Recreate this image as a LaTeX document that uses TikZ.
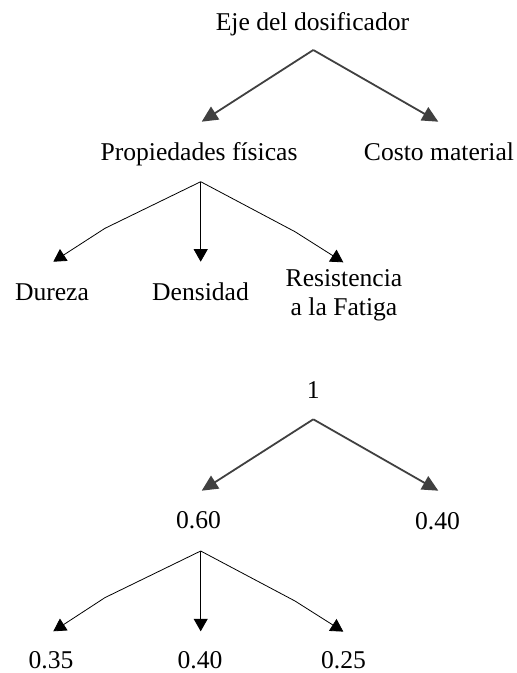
\documentclass[tikz,border=0pt]{standalone}
\usepackage{fontspec}
\setmainfont{Liberation Serif}
\usetikzlibrary{arrows.meta}
\definecolor{arrgray}{RGB}{64,64,64}
\tikzset{
  lbl/.style={anchor=base, inner sep=0pt, font=\fontsize{25.6}{28.3}\selectfont},
  bigarr/.style={draw=arrgray, line width=1.8pt, -{Triangle[length=16pt,width=15pt]}},
  smallarr/.style={draw=black, line width=0.8pt, line join=round, -{Triangle[length=12.5pt,width=14pt]}},
}
\begin{document}
\begin{tikzpicture}[x=1pt,y=-1pt]
\useasboundingbox (0,0) rectangle (517,673);
% ---- first tree ----
\node[lbl] (eje) at (312.5,30) {Eje del dosificador};
\node[lbl] (prop) at (199,160) {Propiedades físicas};
\node[lbl] (costo) at (439,160) {Costo material};
\node[lbl] (dur) at (52,300.7) {Dureza};
\node[lbl] (den) at (200.5,300.7) {Densidad};
\node[lbl] (res) at (344,286.7) {\begin{tabular}[t]{@{}c@{}}Resistencia\\a la Fatiga\end{tabular}};

\coordinate (ejeA) at (313.3,50);
\coordinate (propT) at (201.7,121.7);
\coordinate (costoT) at (438.3,121.7);
\coordinate (propA) at (200.7,181.7);
\coordinate (durK) at (105,228.3);
\coordinate (durT) at (53.3,261.7);
\coordinate (denT) at (200.7,261.7);
\coordinate (resK) at (295,231.7);
\coordinate (resT) at (343.3,262.3);

\draw[bigarr] (ejeA) -- (propT);
\draw[bigarr] (ejeA) -- (costoT);
\draw[smallarr] (propA) -- (durK) -- (durT);
\draw[smallarr] (propA) -- (denT);
\draw[smallarr] (propA) -- (resK) -- (resT);

% ---- second tree ----
\node[lbl] (uno) at (313.3,398.3) {1};
\node[lbl] (seis) at (198.5,528.3) {0.60};
\node[lbl] (cuat) at (437.5,529.3) {0.40};
\node[lbl] (tres) at (51,668.5) {0.35};
\node[lbl] (cuatb) at (200,668.5) {0.40};
\node[lbl] (veinte) at (343.5,668.5) {0.25};

\coordinate (unoA) at (313.3,419.3);
\coordinate (seisT) at (201.7,490.7);
\coordinate (cuatT) at (438.3,490.7);
\coordinate (seisA) at (200.7,551);
\coordinate (tresK) at (105,597.6);
\coordinate (tresT) at (53.3,631.3);
\coordinate (cuatbT) at (200.7,631.3);
\coordinate (veinteK) at (295,601);
\coordinate (veinteT) at (343.3,631.6);

\draw[bigarr] (unoA) -- (seisT);
\draw[bigarr] (unoA) -- (cuatT);
\draw[smallarr] (seisA) -- (tresK) -- (tresT);
\draw[smallarr] (seisA) -- (cuatbT);
\draw[smallarr] (seisA) -- (veinteK) -- (veinteT);
\end{tikzpicture}
\end{document}
